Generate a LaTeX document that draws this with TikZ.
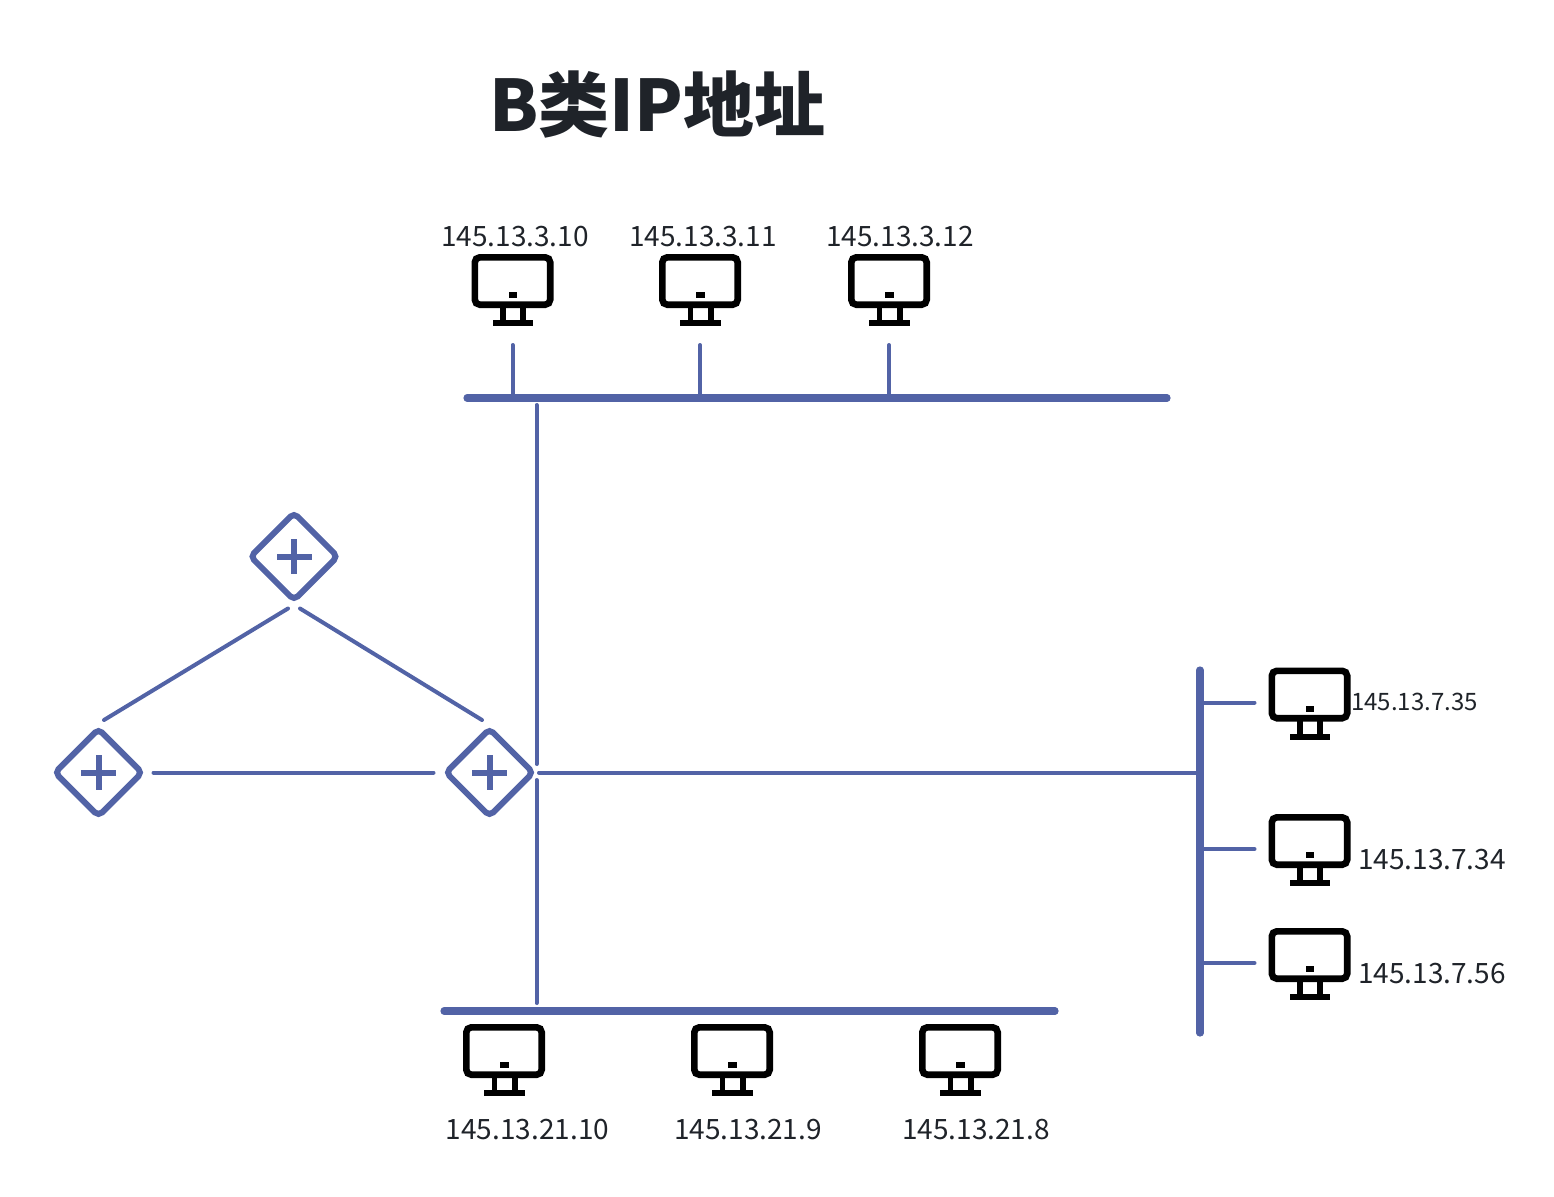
\documentclass[tikz,border=0pt]{standalone}
\usepackage{fontspec}
\setmainfont{Noto Sans CJK SC}
\usetikzlibrary{shapes.geometric}

\definecolor{netblue}{HTML}{5263A6}
\definecolor{inkgray}{HTML}{1F2329}

\tikzset{
    thinwire/.style={color=netblue,line width=4pt,line cap=round},
    buswire/.style={color=netblue,line width=7.2pt,line cap=round},
    addr/.style={text=inkgray,inner sep=0pt,font=\fontsize{28}{28}\selectfont},
    addrsmall/.style={addr,font=\fontsize{24}{24}\selectfont},
    routerbox/.style={diamond,draw=netblue,line width=6pt,rounded corners=5pt,
        minimum size=87pt,inner sep=0pt,outer sep=0pt,
        path picture={
            \fill[netblue,sharp corners] ([shift={(-17.5pt,-3pt)}]path picture bounding box.center) rectangle ++(35pt,6pt);
            \fill[netblue,sharp corners] ([shift={(-3pt,-17.5pt)}]path picture bounding box.center) rectangle ++(6pt,35pt);
        }},
    pcicon/.pic={
        \draw[black,line width=6.6pt,rounded corners=5pt] (-37.7,3.3) rectangle (37.7,50.7);
        \fill[black] (-4,38) rectangle (4.5,44);
        \fill[black] (-12.5,52) rectangle (-7,67);
        \fill[black] (7.5,52) rectangle (13.5,67);
        \fill[black] (-20,66) rectangle (20.5,72);
        \coordinate (-base) at (0,72);
        \coordinate (-west) at (-41,35);
    }
}

\begin{document}
\begin{tikzpicture}[x=1pt,y=-1pt]
    \useasboundingbox (0,0) rectangle (1554,1196);

    \node[text=inkgray,inner sep=0pt,font=\fontsize{71}{71}\selectfont\bfseries] (title) at (657.5,104.5) {B类IP地址};

    % the computers
    \foreach \name/\x/\y in {pcA/512.5/254,pcB/700/254,pcC/889/254,
        pcD/504/1024,pcE/732/1024,pcF/960/1024,
        pcG/1309.5/667.5,pcH/1309.5/814,pcI/1309.5/928}
        \pic (\name) at (\x,\y) {pcicon};

    % the addresses
    \foreach \name/\x/\y/\txt in {labA/515/237/145.13.3.10,labB/703/237/145.13.3.11,labC/900/237/145.13.3.12,
        labD/527.5/1130/145.13.21.10,labE/748/1130/145.13.21.9,labF/976/1130/145.13.21.8,
        labH/1432/860/145.13.7.34,labI/1432/974/145.13.7.56}
        \node[addr] (\name) at (\x,\y) {\txt};
    \node[addrsmall] (labG) at (1414.5,702) {145.13.7.35};

    % the three buses
    \coordinate (topL) at (467,398);
    \coordinate (topR) at (1167,398);
    \coordinate (botL) at (444,1011);
    \coordinate (botR) at (1055,1011);
    \coordinate (rightT) at (1200,670);
    \coordinate (rightB) at (1200,1033);
    \draw[buswire] (topL) -- (topR);
    \draw[buswire] (botL) -- (botR);
    \draw[buswire] (rightT) -- (rightB);

    % stubs from the buses
    \foreach \name in {pcA,pcB,pcC}
        \draw[thinwire] ([yshift=-19pt]\name-base) -- (\name-base |- topL);
    \foreach \name in {pcG,pcH,pcI}
        \draw[thinwire] ([xshift=-14pt]\name-west) -- (\name-west -| rightT);

    % the routers
    \node[routerbox] (routerT) at (294,556.5) {};
    \node[routerbox] (routerL) at (98.5,772.5) {};
    \node[routerbox] (routerR) at (489.5,772.5) {};

    \draw[thinwire] ([shift={(-6pt,-8.5pt)}]routerT.south) -- ([shift={(5.5pt,9pt)}]routerL.north);
    \draw[thinwire] ([shift={(6pt,-8.5pt)}]routerT.south) -- ([shift={(-7.5pt,9pt)}]routerR.north);
    \draw[thinwire,shorten <=11.5pt,shorten >=12.5pt] (routerL.east) -- (routerR.west);

    % from the right router to the buses
    \coordinate (tapT) at (536.5,405);
    \coordinate (tapTe) at (536.5,764);
    \coordinate (tapB) at (536.5,780);
    \coordinate (tapBe) at (536.5,1003);
    \draw[thinwire] (tapT) -- (tapTe);
    \draw[thinwire] (tapB) -- (tapBe);
    \draw[thinwire,shorten <=6pt] (routerR.east) -- (routerR.east -| rightT);
\end{tikzpicture}
\end{document}
